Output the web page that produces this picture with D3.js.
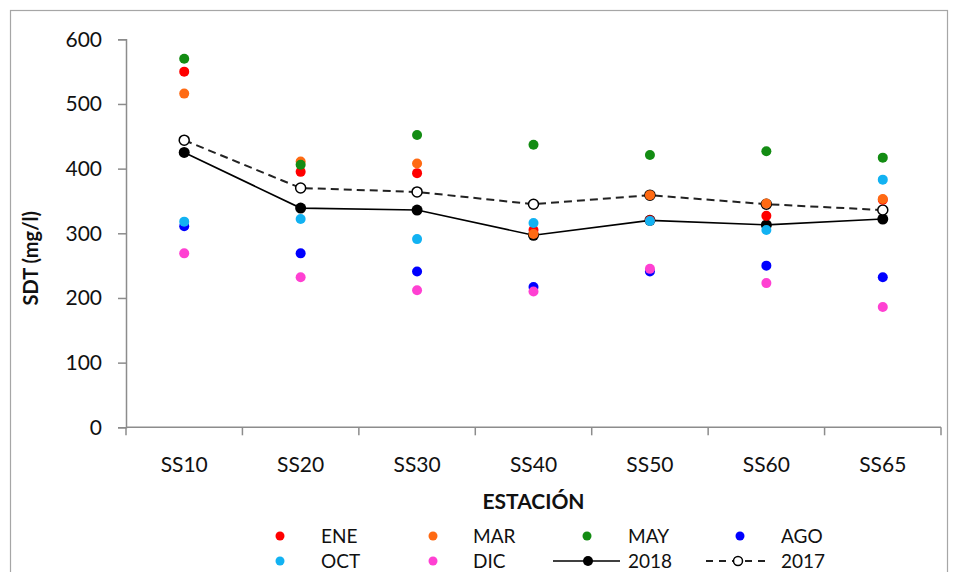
<!DOCTYPE html>
<html>
<head>
<meta charset="utf-8">
<script src="https://cdn.jsdelivr.net/npm/d3@7"></script>
<style>
  html, body { margin: 0; padding: 0; background: #fff; }
  svg { display: block; font-family: Lato, "Open Sans", sans-serif; }
</style>
</head>
<body>
<svg id="chart" width="958" height="572"></svg>
<script>
// ---- data ----
const stations = ["SS10", "SS20", "SS30", "SS40", "SS50", "SS60", "SS65"];
const yTicks = [0, 100, 200, 300, 400, 500, 600];
const ene = [550, 395, 393, 305, 320, 327, 352];
const mar = [516, 411, 408, 299, 359, 346, 353];
const may = [570, 406, 452, 437, 421, 427, 417];
const ago = [311, 269, 241, 217, 241, 250, 232];
const oct = [318, 322, 291, 316, 319, 305, 383];
const dic = [269, 232, 212, 210, 245, 223, 186];
const y2018 = [425, 339, 336, 297, 320, 313, 322];
const y2017 = [444, 370, 364, 345, 359, 345, 336];

const monthSeries = [
  { name: "ENE", values: ene, color: "#ff0000" },
  { name: "MAR", values: mar, color: "#ff6a13" },
  { name: "MAY", values: may, color: "#138c13" },
  { name: "AGO", values: ago, color: "#0000ff" },
  { name: "OCT", values: oct, color: "#12b2f2" },
  { name: "DIC", values: dic, color: "#ff40d2" }
];

(function () {
const svg = d3.select("#chart");
const pLeft = 126, pRight = 941, pTop = 39.3, pBottom = 427.3;

// outer frame
svg.append("rect").attr("x", 10.5).attr("y", 10.5).attr("width", 937).attr("height", 620)
  .attr("fill", "none").attr("stroke", "#a6a6a6").attr("stroke-width", 1.2);

const x = d3.scaleBand().domain(stations).range([pLeft, pRight]).padding(0);
const y = d3.scaleLinear().domain([0, 600]).range([pBottom, pTop]);

const axisColor = "#8c8c8c";

// y axis
const yAxis = svg.append("g").attr("transform", `translate(${pLeft},0)`)
  .call(d3.axisLeft(y).tickValues(yTicks).tickSize(8).tickPadding(16));
yAxis.select(".domain").attr("stroke", axisColor).attr("stroke-width", 1.5);
yAxis.selectAll(".tick line").attr("stroke", axisColor).attr("stroke-width", 1.5);
yAxis.selectAll(".tick text").attr("font-size", 21).attr("fill", "#111")
  .attr("font-family", "Lato, sans-serif");

// x axis with ticks at category boundaries
const xAxisG = svg.append("g").attr("transform", `translate(0,${pBottom})`);
xAxisG.append("line").attr("x1", pLeft).attr("x2", pRight).attr("y1", 0).attr("y2", 0)
  .attr("stroke", axisColor).attr("stroke-width", 1.5);
const boundaries = stations.map(s => x(s)).concat([x(stations[stations.length - 1]) + x.bandwidth()]);
xAxisG.selectAll("line.tk").data(boundaries).enter().append("line").attr("class", "tk")
  .attr("x1", d => d).attr("x2", d => d).attr("y1", 0).attr("y2", 8)
  .attr("stroke", axisColor).attr("stroke-width", 1.5);
xAxisG.selectAll("text.lbl").data(stations).enter().append("text").attr("class", "lbl")
  .attr("x", d => x(d) + x.bandwidth() / 2).attr("y", 45)
  .attr("text-anchor", "middle").attr("font-size", 21).attr("fill", "#111").text(d => d);

// axis titles
svg.append("text").attr("transform", `translate(38,${(pTop + pBottom) / 2 + 25}) rotate(-90)`)
  .attr("text-anchor", "middle").attr("font-size", 20).attr("font-weight", "bold")
  .attr("fill", "#111").text("SDT (mg/l)");
svg.append("text").attr("x", (pLeft + pRight) / 2).attr("y", 509)
  .attr("text-anchor", "middle").attr("font-size", 21).attr("font-weight", "bold")
  .attr("fill", "#111").text("ESTACIÓN");

const cx = (d, i) => x(stations[i]) + x.bandwidth() / 2;

// lines
const line = d3.line().x((d, i) => cx(d, i)).y(d => y(d));
svg.append("path").datum(y2018).attr("d", line).attr("fill", "none")
  .attr("stroke", "#000").attr("stroke-width", 1.6);
svg.append("path").datum(y2017).attr("d", line).attr("fill", "none")
  .attr("stroke", "#222").attr("stroke-width", 2).attr("stroke-dasharray", "8,5");
svg.append("g").selectAll("circle").data(y2018).enter().append("circle")
  .attr("cx", cx).attr("cy", d => y(d)).attr("r", 5.5).attr("fill", "#000");
svg.append("g").selectAll("circle").data(y2017).enter().append("circle")
  .attr("cx", cx).attr("cy", d => y(d)).attr("r", 5).attr("fill", "#fff")
  .attr("stroke", "#000").attr("stroke-width", 1.5);

// month dots
monthSeries.forEach(s => {
  svg.append("g").selectAll("circle").data(s.values).enter().append("circle")
    .attr("cx", cx).attr("cy", d => y(d)).attr("r", 5).attr("fill", s.color);
});

// legend
const leg = svg.append("g");
const legItems = [
  { type: "dot", color: "#ff0000", label: "ENE", mx: 280, tx: 321, row: 0 },
  { type: "dot", color: "#ff6a13", label: "MAR", mx: 433, tx: 473, row: 0 },
  { type: "dot", color: "#138c13", label: "MAY", mx: 587, tx: 628, row: 0 },
  { type: "dot", color: "#0000ff", label: "AGO", mx: 740, tx: 781, row: 0 },
  { type: "dot", color: "#12b2f2", label: "OCT", mx: 280, tx: 321, row: 1 },
  { type: "dot", color: "#ff40d2", label: "DIC", mx: 433, tx: 473, row: 1 },
  { type: "solid", label: "2018", mx: 588, tx: 628, row: 1 },
  { type: "dashed", label: "2017", mx: 738, tx: 781, row: 1 }
];
const rowY = [536, 561];
legItems.forEach(it => {
  const yy = rowY[it.row];
  if (it.type === "dot") {
    leg.append("circle").attr("cx", it.mx).attr("cy", yy).attr("r", 4.5).attr("fill", it.color);
  } else if (it.type === "solid") {
    leg.append("line").attr("x1", it.mx - 35).attr("x2", it.mx + 32).attr("y1", yy).attr("y2", yy)
      .attr("stroke", "#000").attr("stroke-width", 1.6);
    leg.append("circle").attr("cx", it.mx).attr("cy", yy).attr("r", 5).attr("fill", "#000");
  } else {
    leg.append("line").attr("x1", it.mx - 32).attr("x2", it.mx + 32).attr("y1", yy).attr("y2", yy)
      .attr("stroke", "#222").attr("stroke-width", 2).attr("stroke-dasharray", "7,6");
    leg.append("circle").attr("cx", it.mx).attr("cy", yy).attr("r", 4.5).attr("fill", "#fff")
      .attr("stroke", "#000").attr("stroke-width", 1.5);
  }
  leg.append("text").attr("x", it.tx).attr("y", yy + 6.5).attr("font-size", 19)
    .attr("fill", "#111").text(it.label);
});
})();
</script>
</body>
</html>
